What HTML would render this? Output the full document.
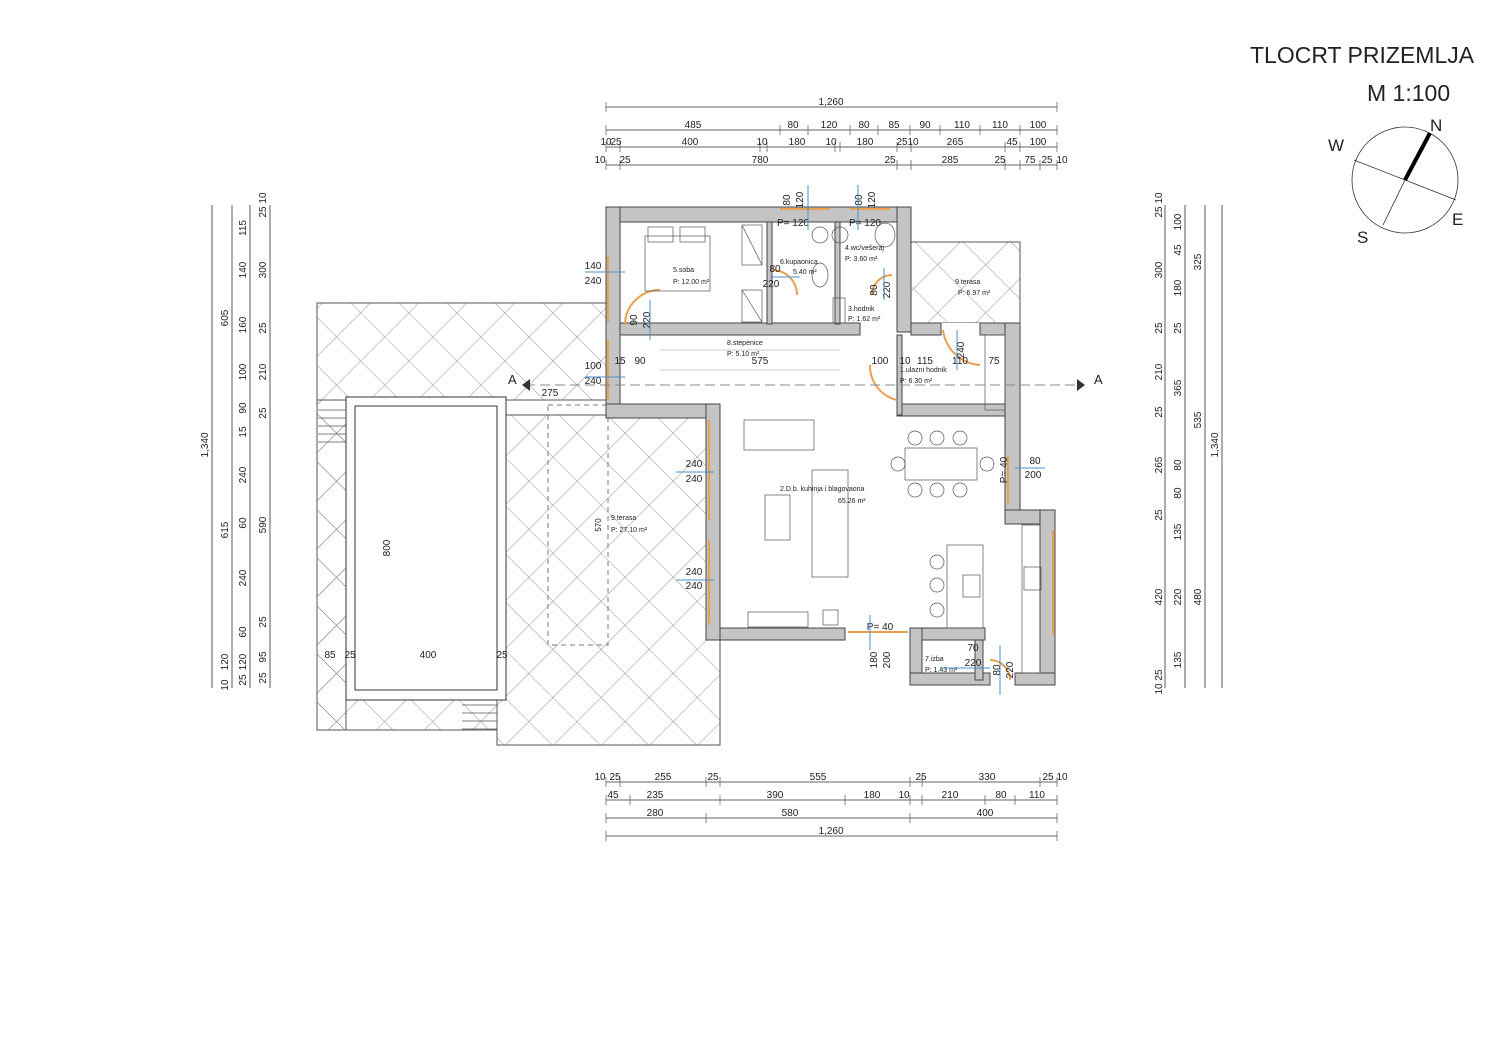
<!DOCTYPE html>
<html><head><meta charset="utf-8"><style>
html,body{margin:0;padding:0;background:#fff}
svg{display:block}
text{font-family:"Liberation Sans",sans-serif;fill:#222}
.d{font-size:10px;text-anchor:middle}
.s{font-size:7px}
.w{fill:#c4c4c4;stroke:#444;stroke-width:1}
.l{stroke:#333;stroke-width:0.8;fill:none}
.t{stroke:#555;stroke-width:0.7;fill:none}
.o{stroke:#e8a050;stroke-width:2;fill:none}
.b{stroke:#4a90c8;stroke-width:1;fill:none}
</style></head><body>
<svg width="1500" height="1062" viewBox="0 0 1500 1062" xmlns="http://www.w3.org/2000/svg">
<defs>
<pattern id="h" width="34" height="34" patternUnits="userSpaceOnUse" patternTransform="rotate(45)">
<path d="M0 0H34M0 0V34" stroke="#777" stroke-width="0.8"/>
</pattern>
</defs>
<rect width="1500" height="1062" fill="#fff"/>
<!-- title -->
<text x="1250" y="63" style="font-size:23px">TLOCRT PRIZEMLJA</text>
<text x="1367" y="101" style="font-size:23px">M 1:100</text>
<!-- compass -->
<circle cx="1405" cy="180" r="53" class="l" stroke-width="1"/>
<line x1="1354" y1="160" x2="1456" y2="200" class="l"/>
<line x1="1383" y1="225" x2="1405" y2="180" class="l"/>
<line x1="1405" y1="180" x2="1430" y2="133" stroke="#000" stroke-width="4"/>
<text x="1430" y="131" style="font-size:17px">N</text>
<text x="1328" y="151" style="font-size:17px">W</text>
<text x="1452" y="225" style="font-size:17px">E</text>
<text x="1357" y="243" style="font-size:17px">S</text>

<!-- hatched terraces -->
<path d="M317 303H606V415H497V745H720V640H706V415H606V400H346V700H497V730H317Z" fill="url(#h)" stroke="#555" stroke-width="1"/>
<rect x="911" y="242" width="109" height="81" fill="url(#h)" stroke="#555"/>
<rect x="317" y="400" width="29" height="330" fill="url(#h)" stroke="#555"/>
<!-- pool -->
<rect x="346" y="397" width="160" height="303" fill="#fff" stroke="#333"/>
<rect x="355" y="406" width="142" height="284" fill="#fff" stroke="#333"/>
<path d="M318 410h28M318 418h28M318 426h28M318 434h28M318 442h28M462 705h35M462 713h35M462 721h35M462 729h35" class="t"/>
<rect x="548" y="405" width="60" height="240" fill="none" stroke="#777" stroke-dasharray="5 4"/>

<!-- floor fill -->
<path d="M606 207H911V323H1020V515H1055V685H910V640H720V415H606Z" fill="#fff"/>

<!-- walls -->
<g class="w">
<rect x="606" y="207" width="305" height="15"/>
<rect x="606" y="207" width="14" height="210"/>
<rect x="897" y="207" width="14" height="125"/>
<rect x="620" y="323" width="240" height="12"/>
<rect x="911" y="323" width="30" height="12"/>
<rect x="980" y="323" width="40" height="12"/>
<rect x="1005" y="323" width="15" height="200"/>
<rect x="1005" y="510" width="50" height="14"/>
<rect x="1040" y="510" width="15" height="175"/>
<rect x="606" y="404" width="114" height="14"/>
<rect x="706" y="404" width="14" height="236"/>
<rect x="720" y="628" width="125" height="12"/>
<rect x="910" y="628" width="75" height="12"/>
<rect x="910" y="628" width="12" height="57"/>
<rect x="910" y="673" width="80" height="12"/>
<rect x="1015" y="673" width="40" height="12"/>
<rect x="897" y="404" width="108" height="12"/>
<rect x="767" y="222" width="5" height="102"/>
<rect x="835" y="222" width="5" height="102"/>
<rect x="897" y="335" width="5" height="80"/>
<rect x="975" y="640" width="8" height="40"/>
</g>
<!-- windows -->
<path d="M608 255V322M608 340V400M709 420V520M709 540V625M848 632H908M1008 455V505M1053 530V635M780 209H830M850 209H890" class="o"/>
<!-- doors -->
<path d="M625 325A35 35 0 0 1 660 290" class="o"/>
<path d="M772 270A25 25 0 0 1 797 295" class="o"/>
<path d="M872 295A20 20 0 0 1 892 275" class="o"/>
<path d="M870 365A35 35 0 0 0 897 400" class="o"/>
<path d="M943 330A40 40 0 0 0 980 365" class="o"/>
<path d="M990 660A20 20 0 0 1 1010 680" class="o"/>

<!-- furniture -->
<g class="t">
<rect x="645" y="236" width="65" height="55"/>
<rect x="648" y="227" width="25" height="15"/><rect x="680" y="227" width="25" height="15"/>
<rect x="742" y="225" width="20" height="40"/><rect x="742" y="290" width="20" height="32"/>
<path d="M742 225L762 265M742 290L762 322"/>
<ellipse cx="820" cy="235" rx="8" ry="8"/><ellipse cx="840" cy="235" rx="8" ry="8"/>
<ellipse cx="885" cy="235" rx="10" ry="12"/>
<ellipse cx="820" cy="275" rx="8" ry="12"/>
<rect x="833" y="298" width="12" height="25"/>
<rect x="985" y="335" width="20" height="75"/>
<rect x="744" y="420" width="70" height="30"/>
<rect x="812" y="470" width="36" height="107"/>
<rect x="765" y="495" width="25" height="45"/>
<rect x="905" y="448" width="72" height="32"/>
<circle cx="915" cy="438" r="7"/><circle cx="937" cy="438" r="7"/><circle cx="960" cy="438" r="7"/>
<circle cx="915" cy="490" r="7"/><circle cx="937" cy="490" r="7"/><circle cx="960" cy="490" r="7"/>
<circle cx="898" cy="464" r="7"/><circle cx="987" cy="464" r="7"/>
<rect x="947" y="545" width="36" height="83"/>
<circle cx="937" cy="562" r="7"/><circle cx="937" cy="585" r="7"/><circle cx="937" cy="610" r="7"/>
<rect x="963" y="575" width="17" height="22"/>
<rect x="1022" y="525" width="18" height="148"/>
<rect x="1024" y="567" width="17" height="23"/>
<rect x="748" y="612" width="60" height="15"/>
<rect x="823" y="610" width="15" height="15"/>
<path d="M660 350H840M660 370H840" stroke="#bbb"/>
</g>
<!-- section line -->
<path d="M525 385H1080" stroke="#888" stroke-dasharray="10 5"/>
<text x="508" y="384" style="font-size:13px">A</text><text x="1094" y="384" style="font-size:13px">A</text>
<path d="M522 385l8 -6v12z M1085 385l-8 -6v12z" fill="#333"/>

<!-- room labels -->
<g class="s">
<text x="673" y="272">5.soba</text><text x="673" y="284">P: 12.00 m²</text>
<text x="780" y="264">6.kupaonica</text><text x="793" y="274">5.40 m²</text>
<text x="845" y="250">4.wc/vešeraj</text><text x="845" y="261">P:   3.60 m²</text>
<text x="848" y="311">3.hodnik</text><text x="848" y="321">P: 1.62 m²</text>
<text x="955" y="284">9.terasa</text><text x="958" y="295">P: 6.97 m²</text>
<text x="727" y="345">8.stepenice</text><text x="727" y="356">P:  5.10 m²</text>
<text x="900" y="372">1.ulazni hodnik</text><text x="900" y="383">P:       6.30 m²</text>
<text x="780" y="491">2.D.b. kuhinja i blagovaona</text><text x="838" y="503">65.26 m²</text>
<text x="611" y="520">9.terasa</text><text x="611" y="532">P: 27.10 m²</text>
<text x="925" y="661">7.izba</text><text x="925" y="665" dy="7">P: 1.43 m²</text>
</g>
<g class="d">
<text x="793" y="226">P= 120</text><text x="865" y="226">P= 120</text>
<text x="775" y="272">80</text><text x="771" y="287">220</text>
<text x="593" y="269">140</text><text x="593" y="284">240</text>
<text x="593" y="369">100</text><text x="593" y="384">240</text>
<text x="694" y="467">240</text><text x="694" y="482">240</text>
<text x="694" y="575">240</text><text x="694" y="589">240</text>
<text x="1035" y="464">80</text><text x="1033" y="478">200</text>
<text x="880" y="630">P= 40</text>
<text x="973" y="651">70</text><text x="973" y="666">220</text>
<text x="620" y="364">15</text><text x="640" y="364">90</text><text x="760" y="364">575</text>
<text x="880" y="364">100</text><text x="905" y="364">10</text><text x="925" y="364">115</text><text x="960" y="364">110</text><text x="994" y="364">75</text>
<text x="550" y="396">275</text><text x="330" y="658">85</text><text x="350" y="658">25</text><text x="428" y="658">400</text><text x="502" y="658">25</text>
</g>
<g class="d">
<text transform="translate(637,320) rotate(-90)">90</text><text transform="translate(650,320) rotate(-90)">220</text>
<text transform="translate(790,200) rotate(-90)">80</text><text transform="translate(803,200) rotate(-90)">120</text>
<text transform="translate(862,200) rotate(-90)">80</text><text transform="translate(875,200) rotate(-90)">120</text>
<text transform="translate(877,290) rotate(-90)">80</text><text transform="translate(890,290) rotate(-90)">220</text>
<text transform="translate(964,350) rotate(-90)">240</text>
<text transform="translate(1007,470) rotate(-90)">P= 40</text>
<text transform="translate(877,660) rotate(-90)">180</text><text transform="translate(890,660) rotate(-90)">200</text>
<text transform="translate(1000,670) rotate(-90)">80</text><text transform="translate(1013,670) rotate(-90)">220</text>
<text transform="translate(390,548) rotate(-90)">800</text>
<text transform="translate(601,525) rotate(-90)" style="font-size:8px">570</text>
</g>
<g class="b">
<path d="M585 272H625M585 377H625M676 472H714M676 580H714M1015 468H1045M770 277H800M808 185V230M858 185V230M884 268V300M650 300V340M957 330V370M870 615V650M1000 645V695M940 668H990"/>
</g>

<!-- top dimension lines -->
<g class="l">
<path d="M606 107H1057M606 130H1057M606 147H1057M606 165H1057M606 782H1057M606 800H1057M606 818H1057M606 836H1057"/>
<path d="M212 205V688M232 205V688M250 205V688M270 205V688M1165 205V688M1185 205V688M1205 205V688M1222 205V688"/>
</g>
<g class="t">
<path d="M606 102v10M1057 102v10M606 125v10M780 125v10M808 125v10M850 125v10M878 125v10M910 125v10M940 125v10M980 125v10M1020 125v10M1057 125v10M606 142v10M620 142v10M760 142v10M767 142v10M835 142v10M840 142v10M897 142v10M911 142v10M1005 142v10M1020 142v10M1057 142v10M606 160v10M620 160v10M897 160v10M911 160v10M1005 160v10M1020 160v10M1040 160v10M1057 160v10"/>
<path d="M606 777v10M620 777v10M706 777v10M720 777v10M910 777v10M922 777v10M1040 777v10M1057 777v10M606 795v10M630 795v10M720 795v10M845 795v10M910 795v10M922 795v10M985 795v10M1015 795v10M1057 795v10M606 813v10M706 813v10M910 813v10M1057 813v10M606 831v10M1057 831v10"/>
</g>
<g class="d">
<text x="831" y="105">1,260</text>
<text x="693" y="128">485</text><text x="793" y="128">80</text><text x="829" y="128">120</text><text x="864" y="128">80</text><text x="894" y="128">85</text><text x="925" y="128">90</text><text x="962" y="128">110</text><text x="1000" y="128">110</text><text x="1038" y="128">100</text>
<text x="606" y="145">10</text><text x="616" y="145">25</text><text x="690" y="145">400</text><text x="762" y="145">10</text><text x="797" y="145">180</text><text x="831" y="145">10</text><text x="865" y="145">180</text><text x="902" y="145">25</text><text x="913" y="145">10</text><text x="955" y="145">265</text><text x="1012" y="145">45</text><text x="1038" y="145">100</text>
<text x="600" y="163">10</text><text x="625" y="163">25</text><text x="760" y="163">780</text><text x="890" y="163">25</text><text x="950" y="163">285</text><text x="1000" y="163">25</text><text x="1030" y="163">75</text><text x="1047" y="163">25</text><text x="1062" y="163">10</text>
<text x="600" y="780">10</text><text x="615" y="780">25</text><text x="663" y="780">255</text><text x="713" y="780">25</text><text x="818" y="780">555</text><text x="921" y="780">25</text><text x="987" y="780">330</text><text x="1048" y="780">25</text><text x="1062" y="780">10</text>
<text x="613" y="798">45</text><text x="655" y="798">235</text><text x="775" y="798">390</text><text x="872" y="798">180</text><text x="904" y="798">10</text><text x="950" y="798">210</text><text x="1001" y="798">80</text><text x="1037" y="798">110</text>
<text x="655" y="816">280</text><text x="790" y="816">580</text><text x="985" y="816">400</text>
<text x="831" y="834">1,260</text>
</g>
<g class="d">
<text transform="translate(208,445) rotate(-90)">1,340</text>
<text transform="translate(228,318) rotate(-90)">605</text><text transform="translate(228,530) rotate(-90)">615</text><text transform="translate(228,662) rotate(-90)">120</text><text transform="translate(228,685) rotate(-90)">10</text>
<text transform="translate(246,228) rotate(-90)">115</text><text transform="translate(246,270) rotate(-90)">140</text><text transform="translate(246,325) rotate(-90)">160</text><text transform="translate(246,372) rotate(-90)">100</text><text transform="translate(246,408) rotate(-90)">90</text><text transform="translate(246,432) rotate(-90)">15</text><text transform="translate(246,475) rotate(-90)">240</text><text transform="translate(246,523) rotate(-90)">60</text><text transform="translate(246,578) rotate(-90)">240</text><text transform="translate(246,632) rotate(-90)">60</text><text transform="translate(246,662) rotate(-90)">120</text><text transform="translate(246,680) rotate(-90)">25</text>
<text transform="translate(266,205) rotate(-90)">25 10</text><text transform="translate(266,270) rotate(-90)">300</text><text transform="translate(266,328) rotate(-90)">25</text><text transform="translate(266,372) rotate(-90)">210</text><text transform="translate(266,413) rotate(-90)">25</text><text transform="translate(266,525) rotate(-90)">590</text><text transform="translate(266,622) rotate(-90)">25</text><text transform="translate(266,657) rotate(-90)">95</text><text transform="translate(266,678) rotate(-90)">25</text>
<text transform="translate(1162,205) rotate(-90)">25 10</text><text transform="translate(1162,270) rotate(-90)">300</text><text transform="translate(1162,328) rotate(-90)">25</text><text transform="translate(1162,372) rotate(-90)">210</text><text transform="translate(1162,412) rotate(-90)">25</text><text transform="translate(1162,465) rotate(-90)">265</text><text transform="translate(1162,515) rotate(-90)">25</text><text transform="translate(1162,597) rotate(-90)">420</text><text transform="translate(1162,682) rotate(-90)">10 25</text>
<text transform="translate(1181,222) rotate(-90)">100</text><text transform="translate(1181,250) rotate(-90)">45</text><text transform="translate(1181,288) rotate(-90)">180</text><text transform="translate(1181,328) rotate(-90)">25</text><text transform="translate(1181,388) rotate(-90)">365</text><text transform="translate(1181,465) rotate(-90)">80</text><text transform="translate(1181,493) rotate(-90)">80</text><text transform="translate(1181,532) rotate(-90)">135</text><text transform="translate(1181,597) rotate(-90)">220</text><text transform="translate(1181,660) rotate(-90)">135</text>
<text transform="translate(1201,262) rotate(-90)">325</text><text transform="translate(1201,420) rotate(-90)">535</text><text transform="translate(1201,597) rotate(-90)">480</text>
<text transform="translate(1218,445) rotate(-90)">1,340</text>
</g>
</svg>
</body></html>
